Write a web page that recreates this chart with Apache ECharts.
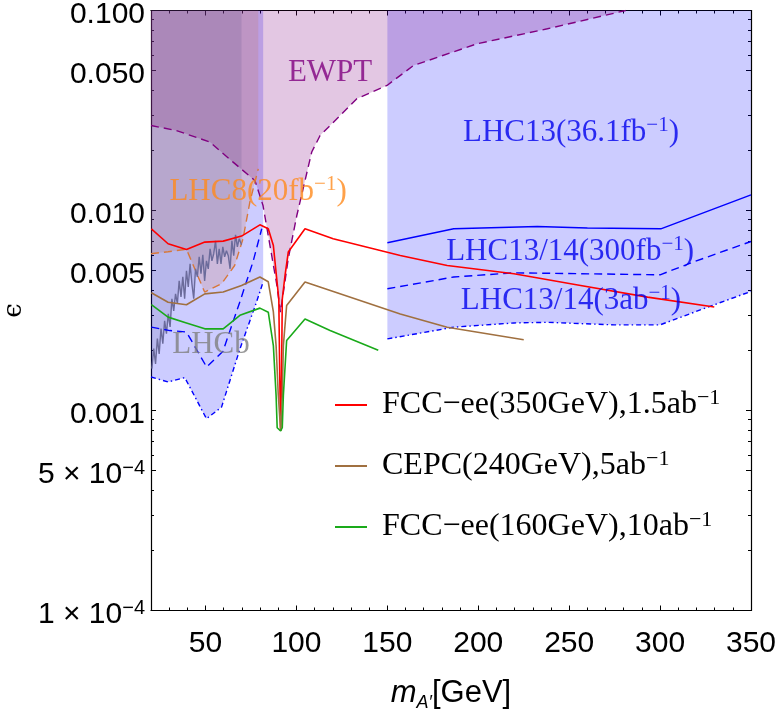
<!DOCTYPE html>
<html>
<head>
<meta charset="utf-8">
<script src="https://cdn.jsdelivr.net/npm/echarts/dist/echarts.min.js"></script>
<style>
html,body{margin:0;padding:0;background:#fff}
#chart{width:779px;height:715px}
</style>
</head>
<body>
<div id="chart"></div>
<script>
// ---- data: [m_A' (GeV), epsilon] ----
const lhc3abLeft = [[20,0.00147],[29.4,0.00139],[38.6,0.00146],[50.5,0.00091],[58.8,0.00104],[68.9,0.00203],[78.1,0.0035],[81.7,0.0044]];
const lhc3abRight = [[150,0.00228],[186.5,0.00261],[219.6,0.00274],[238,0.00276],[274.7,0.00268],[300,0.00268],[329.8,0.00338],[350,0.00394]];
const lhc300Left = [[20.2,0.00261],[30.3,0.00251],[39.5,0.00247],[50.6,0.00165],[59.5,0.00197],[68.9,0.0035],[76.1,0.00554],[80.9,0.0081]];
const lhc300Right = [[150,0.00406],[186.5,0.00465],[219.6,0.00488],[256.3,0.00483],[300,0.00477],[318.6,0.00554],[350,0.0070]];
const lhc36Right = [[150,0.0069],[186.5,0.0081],[232.5,0.00832],[260,0.00817],[300.4,0.0081],[350,0.01198]];
const ewpt = [[20,0.0266],[34,0.0251],[52.4,0.0220],[65,0.0175],[77.2,0.0141],[81.6,0.0106],[89.1,0.0043],[91.2,0.0031],[93.5,0.0043],[95.5,0.00575],[100.2,0.00944],[108.4,0.0196],[113,0.0237],[133.2,0.0362],[149.8,0.0422],[164.4,0.0531],[199.4,0.0682],[238,0.081],[281.1,0.1]];
const lhc8 = [[20,0.00608],[29.4,0.00622],[39.5,0.0064],[49.5,0.00391],[58.8,0.0043],[66,0.00531],[70.6,0.00722],[74.4,0.01105],[79,0.01616]];
const lhcb = [[20.5,0.00162],[21.5,0.00204],[22.5,0.00171],[23.5,0.00229],[24.5,0.00192],[25.5,0.00257],[26.5,0.00216],[27.5,0.00281],[28.5,0.00242],[29.5,0.00304],[30.5,0.00262],[31.5,0.00362],[32.5,0.00315],[33.5,0.00383],[34.5,0.00342],[35.5,0.00445],[36.5,0.0037],[37.5,0.00466],[38.5,0.00362],[39.5,0.00499],[40.5,0.00415],[41.5,0.00541],[42.5,0.0043],[43.5,0.00362],[44.5,0.00511],[45.5,0.00466],[46.5,0.00587],[47.5,0.00483],[48.5,0.006],[49.5,0.00445],[50.5,0.0056],[51.5,0.00511],[52.5,0.00643],[53.5,0.0056],[54.5,0.00608],[55.5,0.00705],[56.5,0.00541],[57.5,0.00643],[58.5,0.00541],[59.5,0.00658],[60.5,0.00587],[61.5,0.00629],[62.5,0.00594],[63.5,0.00511],[64.5,0.00705],[65.5,0.00594],[66.5,0.00756],[67.5,0.00658],[68.5,0.00722],[69.8,0.00674]];
const fcc350 = [[20.2,0.0081],[29.4,0.00682],[39.5,0.00638],[49.6,0.00695],[59.7,0.00703],[69.8,0.00745],[79.9,0.00848],[84.5,0.0081],[87.3,0.00668],[89.1,0.0046],[90.3,0.0036],[90.8,0.0015],[91.3,0.00079],[91.8,0.0015],[92.2,0.0036],[93.7,0.00473],[95.5,0.0062],[104.7,0.0081],[120.2,0.00722],[157.1,0.00596],[182.9,0.00531],[219.6,0.00483],[256.3,0.00422],[293.1,0.00369],[329.8,0.00329]];
const cepc240 = [[20.2,0.00388],[29.4,0.00348],[39.5,0.00338],[49.6,0.00383],[59.7,0.00391],[69.8,0.00422],[79.9,0.00465],[84.5,0.0044],[87.3,0.00311],[88.8,0.00211],[90.0,0.0012],[91.3,0.00079],[92.2,0.0012],[92.8,0.00211],[94.6,0.00335],[104.7,0.00439],[157.1,0.00304],[182.9,0.00261],[225,0.00226]];
const fcc160 = [[20.2,0.00338],[29.4,0.00293],[39.5,0.00274],[49.6,0.00256],[59.7,0.00256],[68.9,0.00299],[79.9,0.00325],[84.5,0.0031],[87.3,0.00211],[88.8,0.00119],[89.4,0.00082],[91.3,0.00079],[92.2,0.00082],[92.8,0.00119],[94.6,0.00224],[104.7,0.00287],[118.5,0.00251],[145,0.0020]];

// ---- axes ----
const xRange = [20, 350];
const yRange = [1e-4, 0.1];
const xMajor = [50,100,150,200,250,300,350];
const xMinor = [30,40,60,70,80,90,110,120,130,140,160,170,180,190,210,220,230,240,260,270,280,290,310,320,330,340];
const yMajor = [1e-4,5e-4,1e-3,5e-3,0.01,0.05,0.1];
const yMajorText = ['{m|1 × 10}{s|−4}','{m|5 × 10}{s|−4}','{m|0.001}','{m|0.005}','{m|0.010}','{m|0.050}','{m|0.100}'];
const yMinor = [2e-4,3e-4,4e-4,6e-4,7e-4,8e-4,9e-4,2e-3,3e-3,4e-3,6e-3,7e-3,8e-3,9e-3,0.02,0.03,0.04,0.06,0.07,0.08,0.09];

// ---- text ----
const seriesNames = ['FCC−ee(350GeV),1.5ab−1','CEPC(240GeV),5ab−1','FCC−ee(160GeV),10ab−1'];
const legendText = ['{t|FCC−ee(350GeV),1.5ab}{s|−1}','{t|CEPC(240GeV),5ab}{s|−1}','{t|FCC−ee(160GeV),10ab}{s|−1}'];
const noteText = ['{t|EWPT}','{t|LHC8(20fb}{s|−1}{t|)}','{t|LHC13(36.1fb}{s|−1}{t|)}','{t|LHC13/14(300fb}{s|−1}{t|)}','{t|LHC13/14(3ab}{s|−1}{t|)}','{t|LHCb}'];
const noteAt = [[118.5,0.049],[78.9,0.0124],[251,0.0244],[250.5,0.0062],[251,0.00353],[53,0.00213]];
const noteColor = ['#7f007f','#ff8a1c','#0000ee','#0000ee','#0000ee','#808080'];

const SANS = '"Liberation Sans", Arial, Helvetica, sans-serif';
const SERIF = '"Liberation Serif", "Times New Roman", serif';

function supRich(size) {
  return {
    t: { fontFamily: SERIF, fontSize: size, lineHeight: 36 },
    s: { fontFamily: SERIF, fontSize: Math.round(size * 0.68), lineHeight: 20, verticalAlign: 'top' }
  };
}

function yLabel(v) {
  for (let i = 0; i < yMajor.length; i++) {
    if (Math.abs(Math.log10(v) - Math.log10(yMajor[i])) < 1e-6) return yMajorText[i];
  }
  return '';
}

const black = '#000';
function xAxisDef(pos, ticks, len, withLabels, withLine) {
  return {
    type: 'value', min: xRange[0], max: xRange[1], position: pos,
    splitLine: { show: false },
    axisLine: { show: withLine, onZero: false, lineStyle: { color: black, width: 1.2 } },
    axisTick: { show: true, inside: true, length: len, customValues: ticks, lineStyle: { color: black, width: 1 } },
    axisLabel: withLabels ? { show: true, customValues: xMajor, color: black, fontFamily: SANS, fontSize: 30, margin: 18 } : { show: false }
  };
}
function yAxisDef(pos, ticks, len, withLabels, withLine) {
  return {
    type: 'log', logBase: 10, min: yRange[0], max: yRange[1], position: pos,
    splitLine: { show: false },
    axisLine: { show: withLine, onZero: false, lineStyle: { color: black, width: 1.2 } },
    axisTick: { show: true, inside: true, length: len, customValues: ticks, lineStyle: { color: black, width: 1 } },
    axisLabel: withLabels ? {
      show: true, customValues: yMajor, formatter: yLabel, margin: 6, color: black,
      padding: [9, 0, 0, 0],
      rich: {
        m: { fontFamily: SANS, fontSize: 30, lineHeight: 34 },
        s: { fontFamily: SANS, fontSize: 20, lineHeight: 20, verticalAlign: 'top' }
      }
    } : { show: false }
  };
}

const xAxes = [
  xAxisDef('bottom', xMajor, 5, true, true),
  xAxisDef('bottom', xMinor, 3, false, false),
  xAxisDef('top', xMajor, 5, false, true),
  xAxisDef('top', xMinor, 3, false, false)
];
Object.assign(xAxes[0], {
  name: '{i|m}{sub|A′}{n|[GeV]}', nameLocation: 'middle', nameGap: 65,
  nameTextStyle: { rich: {
    i: { fontFamily: SANS, fontSize: 31, fontStyle: 'italic', lineHeight: 36, color: black },
    sub: { fontFamily: SANS, fontSize: 18, fontStyle: 'italic', lineHeight: 16, verticalAlign: 'bottom', color: black },
    n: { fontFamily: SANS, fontSize: 31, lineHeight: 36, color: black }
  } }
});
const yAxes = [
  yAxisDef('left', yMajor, 5, true, true),
  yAxisDef('left', yMinor, 3, false, false),
  yAxisDef('right', yMajor, 5, false, true),
  yAxisDef('right', yMinor, 3, false, false)
];
Object.assign(yAxes[0], {
  name: 'ϵ', nameLocation: 'middle', nameGap: 122,
  nameTextStyle: { fontFamily: '"DejaVu Serif", serif', fontSize: 26, color: black }
});

function region(data, lineColor, lineType, fill, z) {
  return {
    type: 'line', data: data, showSymbol: false, symbol: 'none', silent: true, z: z,
    lineStyle: { color: lineColor, width: 1.4, type: lineType },
    areaStyle: { origin: 'end', color: fill, opacity: 1 },
    emphasis: { disabled: true }
  };
}
function curve(data, color, type, width, z, name) {
  const s = {
    type: 'line', data: data, showSymbol: false, symbol: 'none', silent: true, z: z,
    lineStyle: { color: color, width: width, type: type },
    itemStyle: { color: color },
    emphasis: { disabled: true }
  };
  if (name) s.name = name;
  return s;
}

const dashDot = [5, 3, 1.5, 3];
const dashed = [8, 5];

const notes = noteText.map((t, i) => ({
  value: noteAt[i],
  label: { formatter: t, color: noteColor[i] }
}));

const option = {
  animation: false,
  backgroundColor: '#fff',
  grid: { left: 151, right: 28, top: 10.5, bottom: 104.5, outerBoundsMode: 'none' },
  xAxis: xAxes,
  yAxis: yAxes,
  legend: {
    orient: 'vertical', left: 335, top: 387, padding: 0, itemGap: 27,
    itemWidth: 32, itemHeight: 2, icon: 'rect',
    data: seriesNames,
    selectedMode: false,
    formatter: name => legendText[seriesNames.indexOf(name)],
    textStyle: { color: black, padding: [0, 0, 0, 10], rich: supRich(32) }
  },
  series: [
    region(lhc3abLeft, '#0000ff', dashDot, 'rgba(0,0,255,0.2)', 1),
    region(lhc3abRight, '#0000ff', dashDot, 'rgba(0,0,255,0.2)', 1),
    region(ewpt, '#800080', dashed, 'rgba(128,0,128,0.22)', 2),
    region(lhc8, '#d7783a', dashed, 'rgba(204,109,77,0.2)', 2),
    region(lhcb, '#6b6b9b', 'solid', 'rgba(70,70,130,0.15)', 2),
    curve(lhc300Left, '#0000ff', dashed, 1.4, 3),
    curve(lhc300Right, '#0000ff', dashed, 1.4, 3),
    curve(lhc36Right, '#0000ff', 'solid', 1.4, 3),
    curve(fcc350, '#ff0000', 'solid', 1.6, 4, seriesNames[0]),
    curve(cepc240, '#a07040', 'solid', 1.6, 4, seriesNames[1]),
    curve(fcc160, '#1aaa1a', 'solid', 1.6, 4, seriesNames[2]),
    {
      type: 'scatter', symbolSize: 0, silent: true, z: 5, data: notes,
      label: { show: true, position: 'inside', fontFamily: SERIF, fontSize: 31, rich: supRich(31) },
      emphasis: { disabled: true }
    }
  ]
};

echarts.init(document.getElementById('chart'), null, { renderer: 'canvas' }).setOption(option);
</script>
</body>
</html>
